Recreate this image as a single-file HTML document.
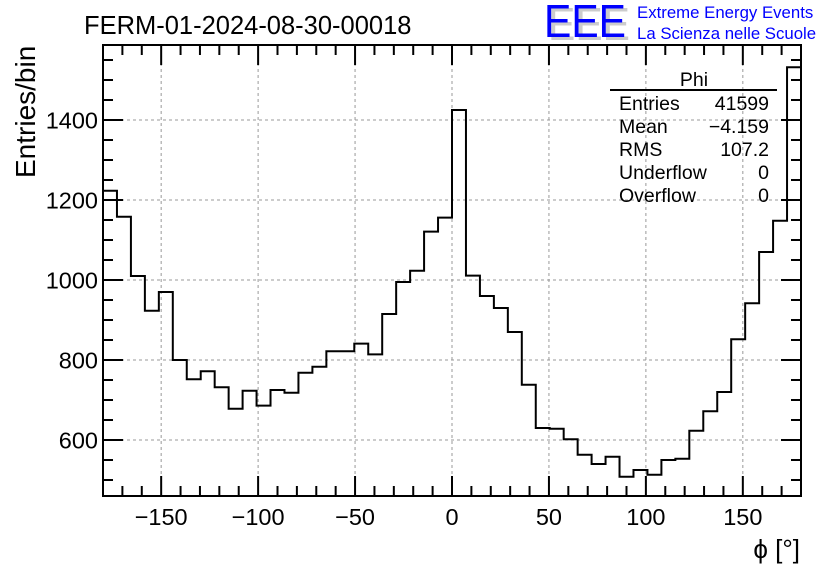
<!DOCTYPE html>
<html><head><meta charset="utf-8"><style>
html,body{margin:0;padding:0;background:#fff;}
svg{display:block;font-family:"Liberation Sans",sans-serif;}
</style></head><body>
<svg id="chart" width="836" height="572" viewBox="0 0 836 572">
<g id="grid"></g>
<g id="ticks"></g>
<path id="hist" fill="none" stroke="#000" stroke-width="2"/>
<rect x="103" y="45" width="698" height="451" fill="none" stroke="#000" stroke-width="2"/>
<g id="labels" font-size="23.5"></g>
<text x="84" y="34" font-size="25.5">FERM-01-2024-08-30-00018</text>
<text transform="translate(35,178) rotate(-90)" font-size="28">Entries/bin</text>
<text x="800" y="558" font-size="26" text-anchor="end">ϕ [°]</text>
<g>
<text x="548" y="40" font-size="46" fill="#ccc" textLength="82" lengthAdjust="spacingAndGlyphs">EEE</text>
<text x="544" y="37" font-size="46" fill="#0000ff" textLength="82" lengthAdjust="spacingAndGlyphs">EEE</text>
<text x="637" y="18" font-size="16.8" fill="#0000ff">Extreme Energy Events</text>
<text x="637" y="39" font-size="16.8" fill="#0000ff">La Scienza nelle Scuole</text>
</g>
<g font-size="19.5">
<text x="694" y="86" text-anchor="middle">Phi</text>
<line x1="610" y1="90" x2="777" y2="90" stroke="#000" stroke-width="2"/>
<text x="619" y="110">Entries</text><text x="769" y="110" text-anchor="end">41599</text>
<text x="619" y="133">Mean</text><text x="769" y="133" text-anchor="end">−4.159</text>
<text x="619" y="156">RMS</text><text x="769" y="156" text-anchor="end">107.2</text>
<text x="619" y="179">Underflow</text><text x="769" y="179" text-anchor="end">0</text>
<text x="619" y="202">Overflow</text><text x="769" y="202" text-anchor="end">0</text>
</g>
</svg>
<script>
const binCounts = [1223,1158,1010,923,970,800,752,772,732,678,723,686,725,718,768,783,822,822,841,814,915,995,1023,1121,1156,1425,1011,960,930,870,738,630,628,602,563,540,558,508,525,513,550,553,623,672,720,852,942,1070,1148,1532];
const xTickValues = [-150,-100,-50,0,50,100,150];
const yTickValues = [600,800,1000,1200,1400];
const xMin=-180, xMax=180, yMin=460, yMax=1587.5;
const L=103,R=801,T=45,B=496;
const sx=v=>L+(v-xMin)/(xMax-xMin)*(R-L);
const sy=v=>B-(v-yMin)/(yMax-yMin)*(B-T);
const NS="http://www.w3.org/2000/svg";
function mk(tag,attrs,parent){const e=document.createElementNS(NS,tag);for(const k in attrs)e.setAttribute(k,attrs[k]);parent.appendChild(e);return e;}
const grid=document.getElementById('grid'),ticks=document.getElementById('ticks'),labels=document.getElementById('labels');
const w=(xMax-xMin)/binCounts.length;
let d=`M${sx(xMin)},${sy(binCounts[0])}`;
binCounts.forEach((c,i)=>{const x0=sx(xMin+i*w),x1=sx(xMin+(i+1)*w);d+=` L${x0},${sy(c)} L${x1},${sy(c)}`;if(i<binCounts.length-1)d+=` L${x1},${sy(binCounts[i+1])}`;});
d+=` L${sx(xMax)},${T}`;
document.getElementById('hist').setAttribute('d',d);
for(let v=-180;v<=180;v+=10){
  const x=sx(v);const major=v%50===0;const len=major?20:10;
  const t1=mk('line',{x1:x,y1:B,x2:x,y2:B-len,stroke:'#000','stroke-width':2},ticks);
  
  
  const t2=mk('line',{x1:x,y1:T,x2:x,y2:T+len,stroke:'#000','stroke-width':2},ticks);
  
  
}
xTickValues.forEach(v=>{
  const g=mk('line',{x1:sx(v),y1:T,x2:sx(v),y2:B,stroke:'#999','stroke-width':1,'stroke-dasharray':'3,3'},grid);
  
  
  const t=mk('text',{x:sx(v),y:525,'text-anchor':'middle'},labels);
  t.textContent=v<0?'−'+Math.abs(v):String(v);
  
  
});
for(let v=500;v<=1550;v+=50){
  const y=sy(v);if(y<T||y>B)continue;const major=v%200===0;const len=major?20:10;
  const t1=mk('line',{x1:L,y1:y,x2:L+len,y2:y,stroke:'#000','stroke-width':2},ticks);
  
  
  const t2=mk('line',{x1:R,y1:y,x2:R-len,y2:y,stroke:'#000','stroke-width':2},ticks);
  
  
}
yTickValues.forEach(v=>{
  const g=mk('line',{x1:L,y1:sy(v),x2:R,y2:sy(v),stroke:'#999','stroke-width':1,'stroke-dasharray':'3,3'},grid);
  
  
  const t=mk('text',{x:98,y:sy(v)+8.5,'text-anchor':'end'},labels);
  t.textContent=String(v);
  
  
});
</script>
</body></html>
